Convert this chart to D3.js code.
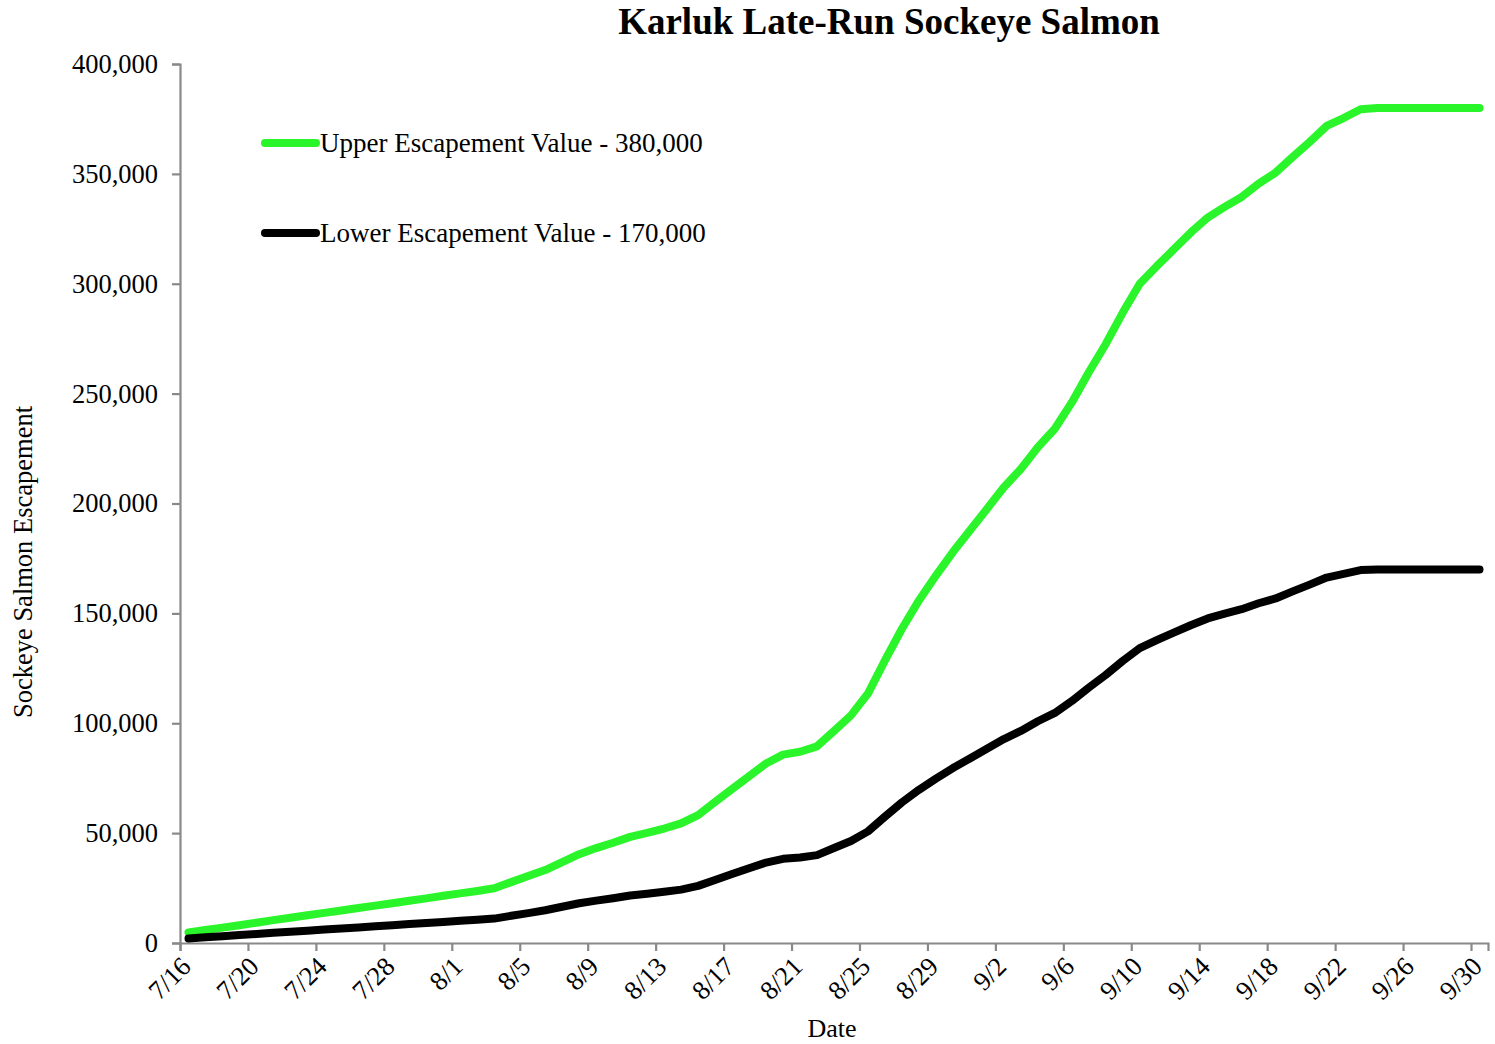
<!DOCTYPE html>
<html>
<head>
<meta charset="utf-8">
<script src="https://cdn.jsdelivr.net/npm/d3@7"></script>
<style>
  body { margin: 0; background: #fff; }
  svg text { font-family: "Liberation Serif", "Times New Roman", serif; fill: #000; }
</style>
</head>
<body>
<svg id="chart" width="1495" height="1044"></svg>
<script>
// daily dates, 7/16 .. 9/30
const startDate = new Date(2021, 6, 16);
const dayCount = 77;

// cumulative escapement at the upper goal (380,000)
const upperValues = [
  4800, 5900, 7000, 8100, 9250, 10400, 11500, 12600, 13700, 14800,
  15900, 17000, 18100, 19200, 20300, 21500, 22600, 23700, 24900, 27700,
  30500, 33200, 36800, 40400, 43200, 45600, 48300, 50100, 52100, 54400,
  58200, 64200, 70100, 75900, 81700, 85700, 87000, 89500, 96500, 103600,
  113500, 128600, 143000, 155900, 167200, 177900, 187700, 197500, 207400, 215700,
  225600, 234000, 246000, 259700, 272600, 286900, 300000, 308000, 315600, 323300,
  330100, 335000, 339500, 345600, 350600, 357700, 364500, 371800, 375400, 379400,
  380000, 380000, 380000, 380000, 380000, 380000, 380000
];

// cumulative escapement at the lower goal (170,000)
const lowerValues = [
  2100, 2600, 3100, 3600, 4100, 4700, 5100, 5600, 6100, 6600,
  7100, 7600, 8100, 8600, 9100, 9600, 10100, 10600, 11100, 12400,
  13600, 14900, 16500, 18100, 19300, 20400, 21600, 22400, 23300, 24300,
  26000, 28700, 31400, 34000, 36600, 38300, 38900, 40000, 43200, 46400,
  50800, 57500, 64000, 69700, 74800, 79600, 84000, 88400, 92800, 96500,
  100900, 104700, 110100, 116200, 122000, 128400, 134200, 137800, 141200, 144600,
  147700, 149900, 151900, 154600, 156800, 160000, 163100, 166300, 168000, 169700,
  170000, 170000, 170000, 170000, 170000, 170000, 170000
];

const seriesNames = ["Upper Escapement Value - 380,000", "Lower Escapement Value - 170,000"];
const seriesColors = ["#2af52a", "#000000"];
const yTicks = [0, 50000, 100000, 150000, 200000, 250000, 300000, 350000, 400000];

const svg = d3.select("#chart");
const margin = {left: 180, right: 1488, top: 64, bottom: 943};

const dates = d3.range(dayCount).map(i => d3.timeDay.offset(startDate, i));

const x = d3.scaleTime()
  .domain([startDate, d3.timeDay.offset(startDate, dayCount)])
  .range([margin.left, margin.right]);
const y = d3.scaleLinear().domain([0, 400000]).range([margin.bottom, margin.top]);

// points sit in the middle of each day
const px = d => x(d3.timeHour.offset(d, 12));

const fmt = d3.format(",");
const axisColor = "#898989";

// y axis
const yAxis = svg.append("g")
  .attr("transform", `translate(${margin.left},0)`)
  .call(d3.axisLeft(y).tickValues(yTicks).tickFormat(fmt).tickSize(8).tickPadding(14));
yAxis.selectAll("text").style("font-size", "26.5px");

// x axis
const xTickDates = d3.range(0, dayCount, 4).map(i => d3.timeDay.offset(startDate, i));
const xAxis = svg.append("g")
  .attr("transform", `translate(0,${margin.bottom})`)
  .call(d3.axisBottom(x).tickValues(xTickDates).tickFormat(d3.timeFormat("%-m/%-d")).tickSize(8));
xAxis.selectAll("text")
  .style("font-size", "26.5px")
  .attr("text-anchor", "end")
  .attr("dy", null).attr("y", null)
  .attr("transform", "translate(12,25) rotate(-45)");

svg.selectAll(".domain, .tick line")
  .attr("stroke", axisColor).attr("stroke-width", 2.2);

// lines
const line = d3.line().x((d, i) => px(dates[i])).y(d => y(d));
[upperValues, lowerValues].forEach((vals, k) => {
  svg.append("path")
    .datum(vals)
    .attr("d", line)
    .attr("fill", "none")
    .attr("stroke", seriesColors[k])
    .attr("stroke-width", 8)
    .attr("stroke-linejoin", "round")
    .attr("stroke-linecap", "round");
});

// legend
seriesNames.forEach((name, k) => {
  const ly = 143 + k * 90;
  svg.append("line")
    .attr("x1", 265).attr("x2", 316).attr("y1", ly).attr("y2", ly)
    .attr("stroke", seriesColors[k]).attr("stroke-width", 8)
    .attr("stroke-linecap", "round");
  svg.append("text")
    .attr("x", 320).attr("y", ly + 9)
    .style("font-size", "27px")
    .text(name);
});

// title and axis titles
svg.append("text")
  .attr("x", 889).attr("y", 34)
  .attr("text-anchor", "middle")
  .style("font-size", "37px").style("font-weight", "bold")
  .text("Karluk Late-Run Sockeye Salmon");

svg.append("text")
  .attr("x", 832).attr("y", 1037)
  .attr("text-anchor", "middle")
  .style("font-size", "26px")
  .text("Date");

svg.append("text")
  .attr("transform", "translate(32,562) rotate(-90)")
  .attr("text-anchor", "middle")
  .style("font-size", "26.5px")
  .text("Sockeye Salmon Escapement");
</script>
</body>
</html>
